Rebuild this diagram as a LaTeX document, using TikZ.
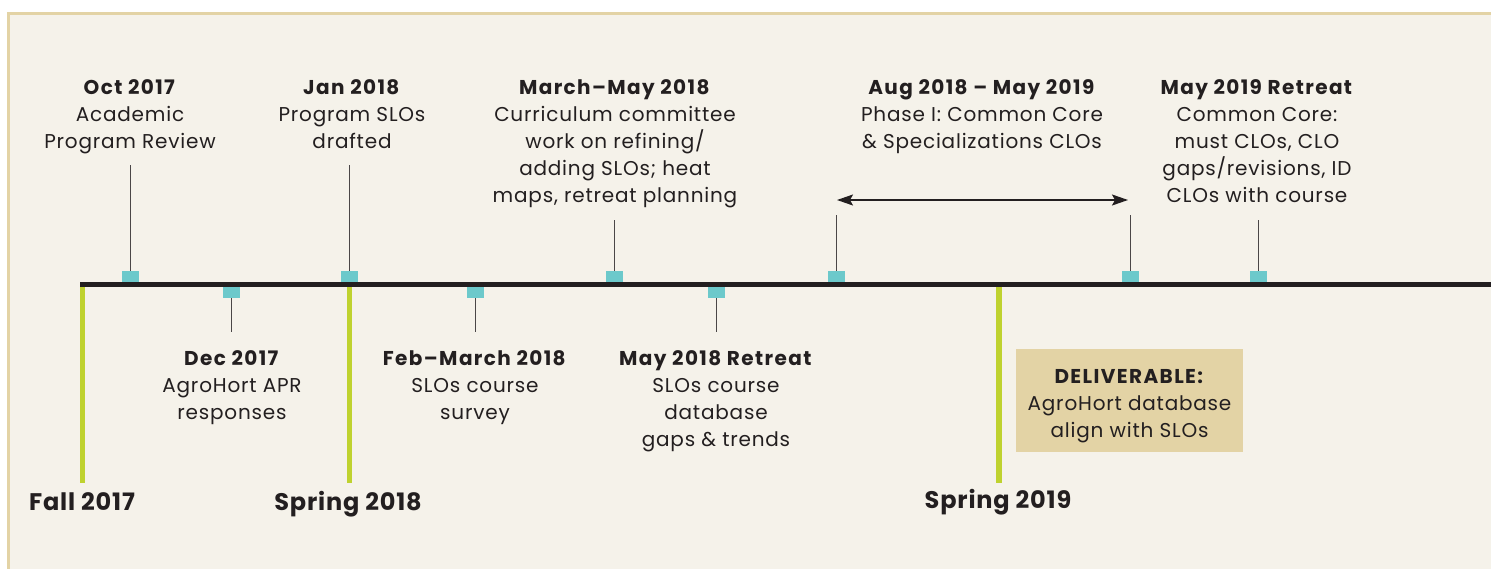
\documentclass[tikz,border=0pt]{standalone}
\usepackage{fontspec}
\setmainfont{Poppins}[LetterSpace=4.0, BoldFeatures={LetterSpace=7}]
\newfontfamily\seasonfont{Poppins}[LetterSpace=3.5]
\usetikzlibrary{arrows.meta}
\definecolor{bgc}{HTML}{F5F2EA}
\definecolor{bordc}{HTML}{E3D3A5}
\definecolor{boxc}{HTML}{E3D3A5}
\definecolor{cyanc}{HTML}{6CC9CB}
\definecolor{greenc}{HTML}{BFD22F}
\definecolor{inkc}{HTML}{231F20}
\definecolor{linec}{HTML}{4A4647}
\tikzset{
  marker/.style={fill=cyanc, draw=none, minimum width=17pt, minimum height=11pt, inner sep=0pt},
  label/.style={anchor=north, align=center, inner sep=0pt, text=inkc, font=\fontsize{20}{27}\selectfont},
  season/.style={anchor=center, inner sep=0pt, text=inkc, font=\fontsize{24}{28}\seasonfont\bfseries},
  conn/.style={draw=linec, line width=1.5pt},
  greenbar/.style={draw=greenc, line width=5.5pt},
}
\begin{document}
\begin{tikzpicture}[x=1pt,y=-1pt]
\useasboundingbox (0,0) rectangle (1491,568);
\fill[white] (0,0) rectangle (1491,568);
\fill[bgc, draw=bordc, line width=3pt] (8.5,13.5) rectangle (1500,580);

% green season bars
\coordinate (g1t) at (82.5,286); \coordinate (g1b) at (82.5,483);
\coordinate (g2t) at (349.5,286); \coordinate (g2b) at (349.5,483);
\coordinate (g3t) at (999,286); \coordinate (g3b) at (999,483);
\draw[greenbar] (g1t) -- (g1b);
\draw[greenbar] (g2t) -- (g2b);
\draw[greenbar] (g3t) -- (g3b);

% main timeline
\coordinate (ls) at (80,284.5); \coordinate (le) at (1491,284.5);
\draw[inkc, line width=5.5pt] (ls) -- (le);

% markers above
\node[marker] (m1) at (130.5,276.5) {};
\node[marker] (m2) at (349.5,276.5) {};
\node[marker] (m3) at (614.5,276.5) {};
\node[marker] (m4) at (836.5,276.5) {};
\node[marker] (m5) at (1130.5,276.5) {};
\node[marker] (m6) at (1258.5,276.5) {};
% markers below
\node[marker] (b1) at (231.5,292.5) {};
\node[marker] (b2) at (475.5,292.5) {};
\node[marker] (b3) at (716.5,292.5) {};

% connector ends
\coordinate (c1) at (130.5,165);
\coordinate (c2) at (349.5,165);
\coordinate (c3) at (614.5,220);
\coordinate (c4) at (836.5,215);
\coordinate (c5) at (1130.5,215);
\coordinate (c6) at (1258.5,220);
\coordinate (d1) at (231.5,332);
\coordinate (d2) at (475.5,332);
\coordinate (d3) at (716.5,332);
\draw[conn] (m1.north) -- (c1);
\draw[conn] (m2.north) -- (c2);
\draw[conn] (m3.north) -- (c3);
\draw[conn] (m4.north) -- (c4);
\draw[conn] (m5.north) -- (c5);
\draw[conn] (m6.north) -- (c6);
\draw[conn] (b1.south) -- (d1);
\draw[conn] (b2.south) -- (d2);
\draw[conn] (b3.south) -- (d3);

% span arrow
\coordinate (a1) at (837,200);
\coordinate (a2) at (1128,200);
\draw[inkc, line width=1.5pt, {Stealth[length=16pt,width=11pt,inset=3pt]}-{Stealth[length=16pt,width=11pt,inset=3pt]}] (a1) -- (a2);

% labels above
\node[label] (t1) at (130,79) {\textbf{Oct 2017}\\Academic\\Program Review};
\node[label] (t2) at (352,79) {\textbf{Jan 2018}\\Program SLOs\\drafted};
\node[label] (t3) at (615,79) {\textbf{March–May 2018}\\Curriculum committee\\work on refining/\\adding SLOs; heat\\maps, retreat planning};
\node[label] (t4) at (982,79) {\textbf{Aug 2018 – May 2019}\\Phase I: Common Core\\\& Specializations CLOs};
\node[label] (t5) at (1257,79) {\textbf{May 2019 Retreat}\\Common Core:\\must CLOs, CLO\\gaps/revisions, ID\\CLOs with course};
% labels below
\node[label] (u1) at (232,350) {\textbf{Dec 2017}\\AgroHort APR\\responses};
\node[label] (u2) at (475,350) {\textbf{Feb–March 2018}\\SLOs course\\survey};
\node[label] (u3) at (716,350) {\textbf{May 2018 Retreat}\\SLOs course\\database\\gaps \& trends};

% deliverable
\node[fill=boxc, minimum width=227pt, minimum height=103pt, inner sep=0pt] (dbox) at (1129.5,400.5) {};
\node[label] (dtext) at (1129.5,369) {\textbf{DELIVERABLE:}\\AgroHort database\\align with SLOs};

% seasons
\node[season] (s1) at (82,502) {Fall 2017};
\node[season] (s2) at (348,504) {Spring 2018};
\node[season] (s3) at (998,502) {Spring 2019};
\end{tikzpicture}
\end{document}
